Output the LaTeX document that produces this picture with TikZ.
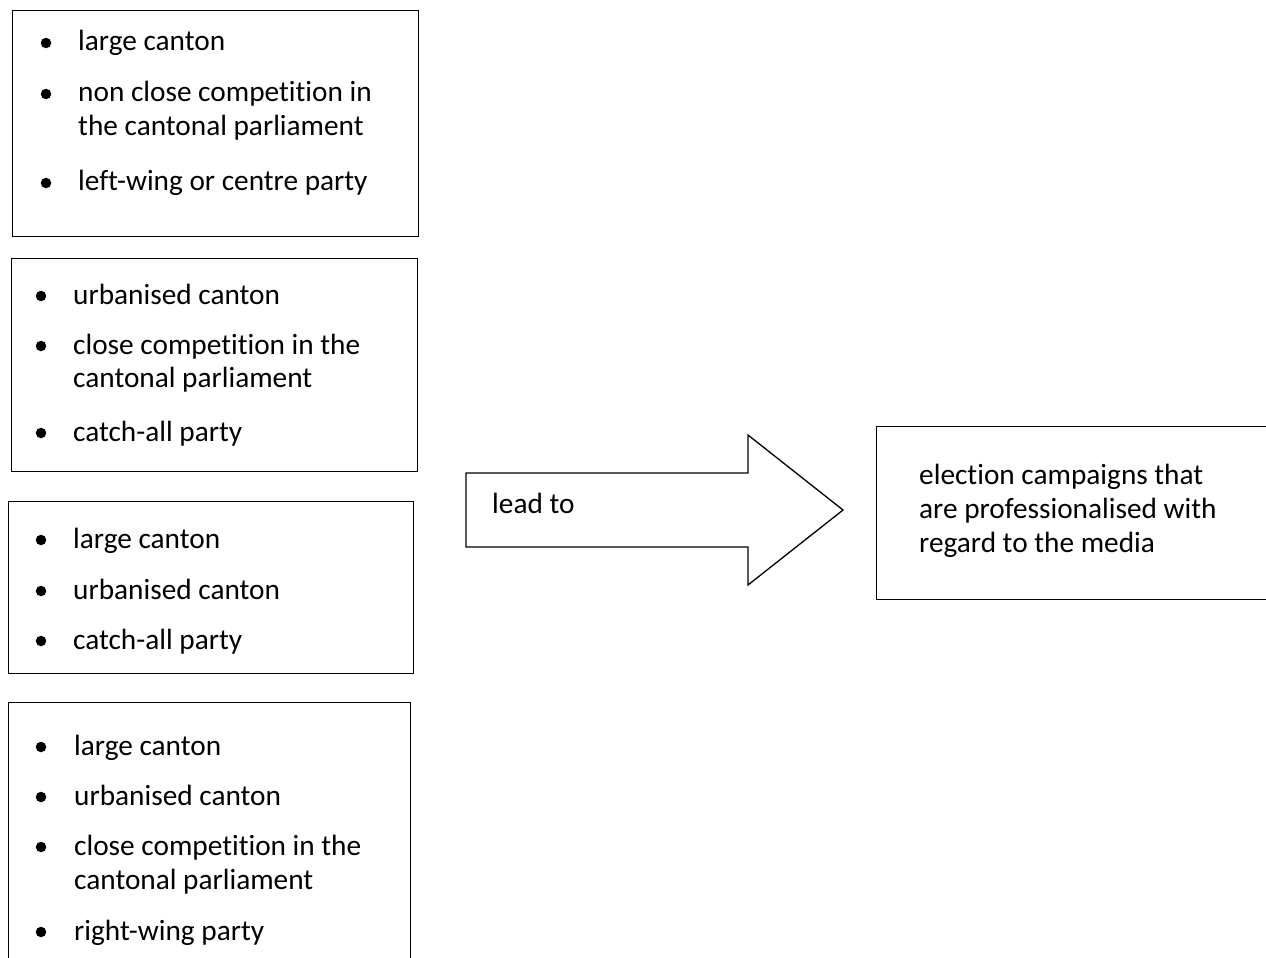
\documentclass[tikz,border=0pt]{standalone}
\usepackage{fontspec}
\setmainfont{Carlito}[RawFeature={-liga}]
\begin{document}
\begin{tikzpicture}[x=1pt,y=-1pt,
  box/.style={draw=black,line width=1.4pt,fill=none,inner sep=0pt,anchor=north west},
  txt/.style={anchor=base west,inner sep=0pt,font=\fontsize{29.3}{35}\selectfont},
  dot/.style={circle,fill=black,inner sep=0pt,minimum size=10.5pt}]
\useasboundingbox (0,0) rectangle (1266,958);

% condition boxes
\node[box,minimum width=406pt,minimum height=226pt] (b1) at (12,10) {};
\node[box,minimum width=406pt,minimum height=213pt] (b2) at (11,258) {};
\node[box,minimum width=405pt,minimum height=172pt] (b3) at (8,501) {};
\node[box,minimum width=402pt,minimum height=270pt] (b4) at (8,702) {};

% box 1
\node[dot] (d11) at (46,43) {};
\node[txt] (t11) at (78,50.5) {large canton};
\node[dot] (d12) at (46,94) {};
\node[txt] (t12) at (78,101.5) {non close competition in};
\node[txt] (t13) at (78,135) {the cantonal parliament};
\node[dot] (d13) at (46,183) {};
\node[txt] (t14) at (78,190.5) {left-wing or centre party};

% box 2
\node[dot] (d21) at (41,296) {};
\node[txt] (t21) at (73,304) {urbanised canton};
\node[dot] (d22) at (41,346) {};
\node[txt] (t22) at (73,354) {close competition in the};
\node[txt] (t23) at (73,387.5) {cantonal parliament};
\node[dot] (d23) at (41,433) {};
\node[txt] (t24) at (73,441) {catch-all party};

% box 3
\node[dot] (d31) at (41,540) {};
\node[txt] (t31) at (73,548) {large canton};
\node[dot] (d32) at (41,591) {};
\node[txt] (t32) at (73,599) {urbanised canton};
\node[dot] (d33) at (41,641) {};
\node[txt] (t33) at (73,649) {catch-all party};

% box 4
\node[dot] (d41) at (41,747) {};
\node[txt] (t41) at (74,755) {large canton};
\node[dot] (d42) at (41,797) {};
\node[txt] (t42) at (74,805) {urbanised canton};
\node[dot] (d43) at (41,847) {};
\node[txt] (t43) at (74,855) {close competition in the};
\node[txt] (t44) at (74,889.5) {cantonal parliament};
\node[dot] (d44) at (41,932) {};
\node[txt] (t45) at (74,940) {right-wing party};

% block arrow
\draw[line width=1.3pt,line join=miter]
  (466,473) -- (748,473) -- (748,435) -- (843,510) -- (748,585)
  -- (748,547) -- (466,547) -- cycle;
\node[txt] (lead) at (492,513) {lead to};

% outcome box
\node[box,minimum width=395pt,minimum height=173pt] (out) at (876,426) {};
\node[txt] (o1) at (919,484) {election campaigns that};
\node[txt] (o2) at (919,518) {are professionalised with};
\node[txt] (o3) at (919,552) {regard to the media};
\end{tikzpicture}
\end{document}
